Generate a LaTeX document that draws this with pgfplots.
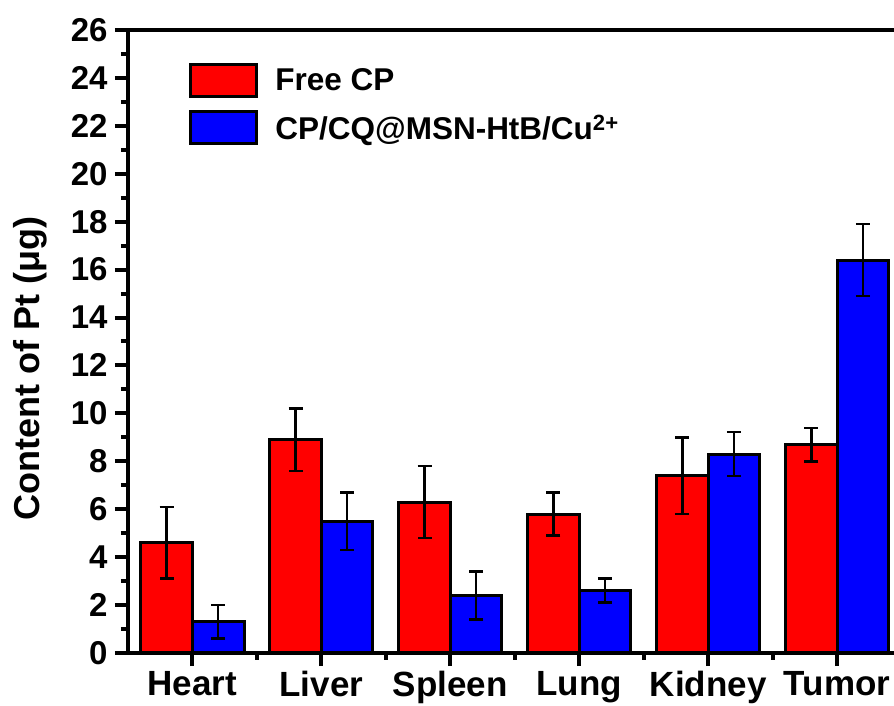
\documentclass[border=0pt]{standalone}
\usepackage{pgfplots}
\pgfplotsset{compat=1.18}
\usepackage{fontspec}
\setmainfont{Liberation Sans}
\definecolor{barred}{HTML}{FF0000}
\definecolor{barblue}{HTML}{0000FF}

\pgfplotsset{
  /pgfplots/error bars/error bar style={line width=2.5pt, black},
  /pgfplots/error bars/error mark options={rotate=90, mark size=7pt, line width=2.5pt, black},
}

\begin{document}
\begin{tikzpicture}
\useasboundingbox (-128pt,-53pt) rectangle (766pt,653pt);
\clip (-128pt,-53pt) rectangle (766pt,653pt);
\begin{axis}[
  at={(0,0)}, anchor=south west,
  scale only axis, width=773.5pt, height=623pt,
  ybar=0pt, bar width=0.4,
  xmin=-0.5, xmax=5.5, ymin=0, ymax=26,
  enlargelimits=false,
  xtick={0,...,5},
  xticklabels={Heart,Liver,Spleen,Lung,Kidney,Tumor},
  minor xtick={0.5,1.5,...,4.5},
  ytick={0,2,...,26}, minor ytick={1,3,...,25},
  xtick pos=left, ytick pos=left,
  tick align=outside,
  major tick length=13pt, minor tick length=7pt,
  every tick/.style={black, line width=4pt},
  major tick style={black, line width=4pt},
  minor tick style={black, line width=4pt},
  axis line style={line width=4pt},
  x tick label style={font=\fontsize{35}{40}\selectfont\bfseries, yshift=-2pt},
  y tick label style={font=\fontsize{33}{38}\selectfont\bfseries, xshift=-4pt},
  /pgf/number format/assume math mode=true,
  ylabel={Content of Pt (μg)},
  ylabel style={font=\fontsize{36}{42}\selectfont\bfseries, at={(rel axis cs:-0.1267,0.457)}, anchor=center},
  legend cell align=left,
  legend style={at={(0.079,0.947)}, anchor=north west, draw=none, fill=none,
    inner sep=0pt, row sep=12pt, column sep=17pt,
    nodes={inner sep=0pt},
    font=\fontsize{31.5}{36}\selectfont\bfseries},
  legend image code/.code={\draw[#1, line width=3pt] (0pt,-16pt) rectangle (66pt,16pt);},
  every axis plot/.append style={draw=black, line width=3pt},
]
\addplot[fill=barred, error bars/.cd, y dir=both, y explicit] coordinates {
  (0,4.6) +- (0,1.5)
  (1,8.9) +- (0,1.3)
  (2,6.3) +- (0,1.5)
  (3,5.8) +- (0,0.9)
  (4,7.4) +- (0,1.6)
  (5,8.7) +- (0,0.7)
};
\addplot[fill=barblue, error bars/.cd, y dir=both, y explicit] coordinates {
  (0,1.3) +- (0,0.7)
  (1,5.5) +- (0,1.2)
  (2,2.4) +- (0,1.0)
  (3,2.6) +- (0,0.5)
  (4,8.3) +- (0,0.92)
  (5,16.4) +- (0,1.5)
};
\legend{Free CP, CP/CQ@MSN-HtB/Cu\textsuperscript{2+}}
\end{axis}
\end{tikzpicture}
\end{document}
